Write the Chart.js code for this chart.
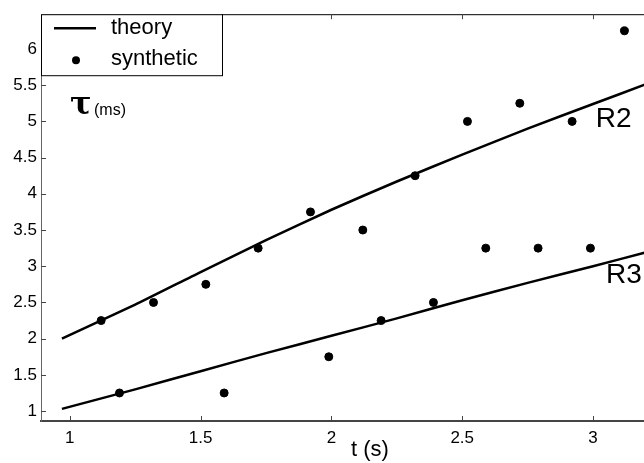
<!DOCTYPE html>
<html>
<head>
<meta charset="utf-8">
<script src="https://cdn.jsdelivr.net/npm/chart.js@4.4.0/dist/chart.umd.min.js"></script>
<style>
    html, body { margin: 0; padding: 0; background: #fff; overflow: hidden; }
    #wrap { width: 644px; height: 463px; overflow: hidden; }
    canvas { display: block; }
</style>
</head>
<body>
<div id="wrap"><canvas id="tauChart" width="704" height="463"></canvas></div>
<script>
// theory curves
const theoryT = [0.97, 1.25, 1.5, 1.75, 2.0, 2.25, 2.5, 2.75, 3.0, 3.2];
const theoryR2 = [2.0, 2.47, 2.92, 3.36, 3.78, 4.17, 4.54, 4.9, 5.24, 5.51];
const theoryR3 = [1.03, 1.3, 1.55, 1.8, 2.04, 2.28, 2.53, 2.77, 3.0, 3.19];

// synthetic points
const synthT2 = [1.12, 1.32, 1.52, 1.72, 1.92, 2.12, 2.32, 2.52, 2.72, 2.92, 3.12];
const synthR2 = [2.25, 2.5, 2.75, 3.25, 3.75, 3.5, 4.25, 5.0, 5.25, 5.0, 6.25];
const synthT3 = [1.19, 1.59, 1.99, 2.19, 2.39, 2.59, 2.79, 2.99];
const synthR3 = [1.25, 1.25, 1.75, 2.25, 2.5, 3.25, 3.25, 3.25];

const xTicks = [1, 1.5, 2, 2.5, 3];
const yTicks = [1, 1.5, 2, 2.5, 3, 3.5, 4, 4.5, 5, 5.5, 6];

const curveLabels = [
    { text: 'R2', t: 3.01, v: 5.03 },
    { text: 'R3', t: 3.05, v: 2.88 }
];

const pts = (xs, ys) => xs.map((x, i) => ({ x: x, y: ys[i] }));

Chart.defaults.font.family = "'Liberation Sans', Arial, sans-serif";
Chart.defaults.color = '#000';

// frame, inward ticks, legend box and text labels
const decorations = {
    id: 'decorations',
    afterDraw(chart) {
        const { ctx, chartArea: a, scales: { x, y } } = chart;
        ctx.save();

        ctx.strokeStyle = '#000';
        ctx.lineWidth = 1;
        ctx.beginPath();
        ctx.moveTo(a.left, a.top + 0.5);
        ctx.lineTo(a.right, a.top + 0.5);
        ctx.stroke();

        ctx.strokeStyle = '#444';
        ctx.beginPath();
        xTicks.forEach(v => {
            const px = Math.round(x.getPixelForValue(v)) + 0.5;
            ctx.moveTo(px, a.bottom);
            ctx.lineTo(px, a.bottom - 5);
            ctx.moveTo(px, a.top);
            ctx.lineTo(px, a.top + 5);
        });
        yTicks.forEach(v => {
            const py = Math.round(y.getPixelForValue(v)) + 0.5;
            ctx.moveTo(a.left, py);
            ctx.lineTo(a.left + 5, py);
        });
        ctx.stroke();

        // legend
        const box = { l: a.left, t: a.top, w: 181, h: 61 };
        ctx.fillStyle = '#fff';
        ctx.fillRect(box.l, box.t, box.w, box.h);
        ctx.strokeStyle = '#000';
        ctx.strokeRect(box.l + 0.5, box.t + 0.5, box.w, box.h);

        ctx.font = "22px 'Liberation Sans', Arial, sans-serif";
        ctx.fillStyle = '#000';
        ctx.textBaseline = 'middle';
        ctx.textAlign = 'left';
        const names = [...new Set(chart.data.datasets.map(d => d.label))];
        // theory row
        ctx.lineWidth = 2.5;
        ctx.beginPath();
        ctx.moveTo(box.l + 13, box.t + 14);
        ctx.lineTo(box.l + 55, box.t + 14);
        ctx.stroke();
        ctx.fillText(names[0], box.l + 70, box.t + 14);
        // synthetic row
        ctx.beginPath();
        ctx.arc(box.l + 35, box.t + 46, 4, 0, Math.PI * 2);
        ctx.fill();
        ctx.fillText(names[1], box.l + 70, box.t + 45);

        // curve labels
        ctx.font = "28px 'Liberation Sans', Arial, sans-serif";
        curveLabels.forEach(c => {
            ctx.fillText(c.text, x.getPixelForValue(c.t), y.getPixelForValue(c.v));
        });

        // tau (ms)
        ctx.font = "bold 32px 'DejaVu Serif', serif";
        ctx.textBaseline = 'alphabetic';
        ctx.fillText('\u03c4', 70, 114);
        ctx.font = "16px 'Liberation Sans', Arial, sans-serif";
        ctx.fillText('(ms)', 94, 115);

        ctx.restore();
    }
};

new Chart(document.getElementById('tauChart'), {
    type: 'scatter',
    data: {
        datasets: [
            {
                label: 'theory',
                data: pts(theoryT, theoryR2),
                showLine: true,
                borderColor: '#000',
                borderWidth: 2.5,
                pointRadius: 0,
                tension: 0.2
            },
            {
                label: 'theory',
                data: pts(theoryT, theoryR3),
                showLine: true,
                borderColor: '#000',
                borderWidth: 2.5,
                pointRadius: 0,
                tension: 0.2
            },
            {
                label: 'synthetic',
                data: pts(synthT2, synthR2),
                backgroundColor: '#000',
                borderColor: '#000',
                pointRadius: 4
            },
            {
                label: 'synthetic',
                data: pts(synthT3, synthR3),
                backgroundColor: '#000',
                borderColor: '#000',
                pointRadius: 4
            }
        ]
    },
    options: {
        responsive: false,
        animation: false,
        layout: { padding: { top: 11, right: 0, left: 0, bottom: 0 } },
        plugins: {
            legend: { display: false },
            tooltip: { enabled: false }
        },
        scales: {
            x: {
                type: 'linear',
                min: 0.89,
                max: 3.405,
                afterFit: s => { s.height = 42; },
                afterBuildTicks: s => { s.ticks = xTicks.map(v => ({ value: v })); },
                grid: { display: false, drawTicks: false },
                border: { display: true, color: '#444', width: 2 },
                ticks: {
                    padding: 7,
                    font: { size: 17 },
                    maxRotation: 0,
                    callback: v => String(v)
                },
                title: {
                    display: true,
                    text: 't (s)',
                    font: { size: 22 },
                    padding: { top: 0, bottom: 0 }
                }
            },
            y: {
                type: 'linear',
                min: 0.863,
                max: 6.48,
                afterFit: s => { s.width = 41; },
                afterBuildTicks: s => { s.ticks = yTicks.map(v => ({ value: v })); },
                grid: { display: false, drawTicks: false },
                border: { display: true, color: '#666', width: 1 },
                ticks: {
                    padding: 4,
                    font: { size: 17 },
                    callback: v => String(v)
                }
            }
        }
    },
    plugins: [decorations]
});
</script>
</body>
</html>
